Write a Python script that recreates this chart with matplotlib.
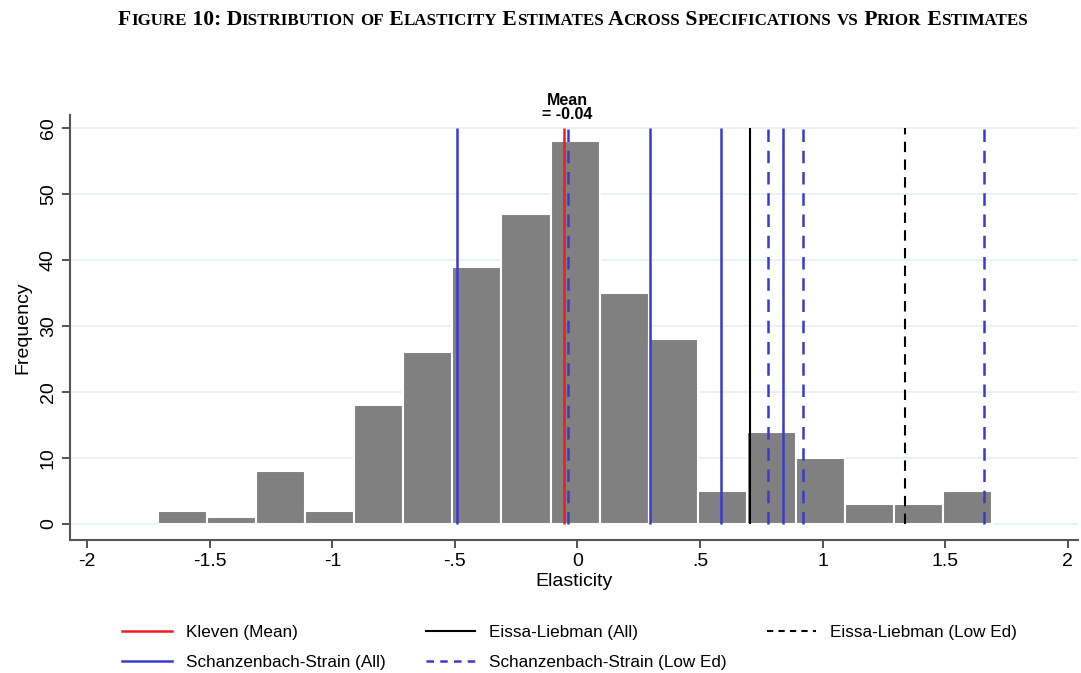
import numpy as np
import matplotlib
matplotlib.use("Agg")
import matplotlib.pyplot as plt
from matplotlib.lines import Line2D

plt.rcParams['font.family'] = ['Liberation Sans', 'DejaVu Sans']

# histogram of estimates (bin start, width, counts)
bin_start = -1.71
bin_width = 0.2
counts = [2, 1, 8, 2, 18, 26, 39, 47, 58, 35, 28, 5, 14, 10, 3, 3, 5]

# prior estimates
kleven_mean = -0.055
ss_all = [-0.49, 0.296, 0.585, 0.838]
ss_low = [-0.04, 0.777, 0.92, 1.66]
el_all = [0.703]
el_low = [1.335]
mean_label = "Mean\n= -0.04"
mean_x = -0.04

xticks = [-2, -1.5, -1, -0.5, 0, 0.5, 1, 1.5, 2]
xticklabels = ['-2', '-1.5', '-1', '-.5', '0', '.5', '1', '1.5', '2']
yticks = [0, 10, 20, 30, 40, 50, 60]

blue = '#3a3acc'
red = '#ee1c24'
gray = '#808080'

fig = plt.figure(figsize=(10.81, 6.73), dpi=100)
ax = fig.add_axes([0.0648, 0.198, 0.932, 0.631])

edges = bin_start + bin_width * np.arange(len(counts))
ax.bar(edges, counts, width=bin_width, align='edge', color=gray,
       edgecolor='white', linewidth=1.5, zorder=2)

for v in yticks:
    ax.axhline(v, color='#e8f0f2', lw=1.2, zorder=1)

ax.vlines(ss_all, 0, 60, colors=blue, lw=1.8, zorder=3)
ax.vlines(ss_low, 0, 60, colors=blue, lw=1.8, linestyles=(0, (5, 3.5)), zorder=3)
ax.vlines(el_all, 0, 60, colors='black', lw=1.5, zorder=3)
ax.vlines(el_low, 0, 60, colors='black', lw=1.5, linestyles=(0, (5, 3.5)), zorder=3)
ax.vlines([kleven_mean], 0, 60, colors=red, lw=1.8, zorder=3)

ax.text(mean_x, 61.0, mean_label, ha='center', va='bottom', fontsize=11.5,
        fontweight='bold', linespacing=0.85)

ax.set_xlim(-2.07, 2.04)
ax.set_ylim(-2.4, 62)
ax.set_xticks(xticks)
ax.set_xticklabels(xticklabels)
ax.set_yticks(yticks)
ax.tick_params(axis='both', labelsize=14, length=6, width=1.3, color='#444444')
ax.tick_params(axis='y', labelrotation=90)
for lab in ax.get_yticklabels():
    lab.set_va('center')
for s in ['top', 'right']:
    ax.spines[s].set_visible(False)
for s in ['left', 'bottom']:
    ax.spines[s].set_linewidth(1.5)
    ax.spines[s].set_color('#555555')
ax.set_xlabel('Elasticity', fontsize=14, labelpad=2)
ax.set_ylabel('Frequency', fontsize=14, labelpad=6)

handles = [
    Line2D([], [], color=red, lw=1.8),
    Line2D([], [], color=blue, lw=1.8),
    Line2D([], [], color='black', lw=1.5),
    Line2D([], [], color=blue, lw=1.8, ls=(0, (3, 2.5))),
    Line2D([], [], color='black', lw=1.5, ls=(0, (3, 2.5))),
]
labels = ['Kleven (Mean)', 'Schanzenbach-Strain (All)', 'Eissa-Liebman (All)',
          'Schanzenbach-Strain (Low Ed)', 'Eissa-Liebman (Low Ed)']
fig.legend(handles, labels, ncol=3, loc='upper left', bbox_to_anchor=(0.113, 0.071),
           frameon=False, fontsize=12.3, handlelength=2.9, handletextpad=0.82,
           columnspacing=2.35, labelspacing=0.85, borderaxespad=0, borderpad=0)

# small caps title
title = "Figure 10: Distribution of Elasticity Estimates Across Specifications vs Prior Estimates"
runs = []
for ch in title:
    small = ch.islower()
    c = ch.upper()
    if runs and runs[-1][1] == small:
        runs[-1][0] += c
    else:
        runs.append([c, small])

renderer = fig.canvas.get_renderer()
big, sm = 15.6, 12.2
texts = []
x = 0
for s, small in runs:
    t = fig.text(0, 0.963, s, fontsize=sm if small else big, fontweight='bold',
                 family='Liberation Serif', va='baseline', ha='left')
    w = t.get_window_extent(renderer).width
    texts.append((t, x))
    x += w
x0 = 573 - x / 2
for t, off in texts:
    t.set_x((x0 + off) / fig.bbox.width)

fig.savefig('out.png', dpi=100)
